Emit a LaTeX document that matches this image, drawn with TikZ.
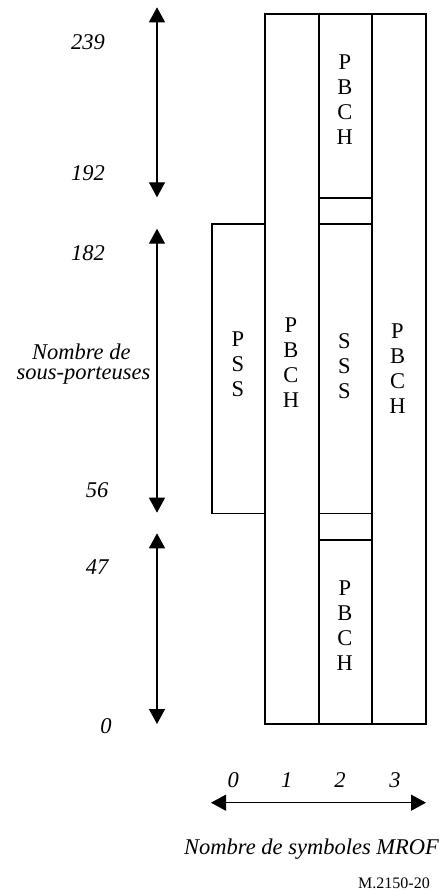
\documentclass[tikz,border=0pt]{standalone}
\usepackage{fontspec}
\setmainfont{Liberation Serif}
\usetikzlibrary{arrows.meta}
\tikzset{
  box/.style={draw, line width=1.5pt, inner sep=0pt, anchor=north west},
  gap/.style={draw, line width=1.5pt, inner sep=0pt, anchor=north west},
  letters/.style={align=center, inner sep=0pt, font=\fontsize{22.5}{25}\selectfont},
  lab/.style={inner sep=0pt, font=\fontsize{22.5}{25}\selectfont\itshape},
  dbl/.style={line width=1.3pt, {Triangle[length=15pt,width=16pt]}-{Triangle[length=15pt,width=16pt]}},
}
\begin{document}
\begin{tikzpicture}[x=1pt,y=-1pt]
\useasboundingbox (0,0) rectangle (445,891);
% columns
\node[box, minimum width=54pt, minimum height=710pt] (c1) at (264.3,13.3) {};
\node[box, minimum width=53.7pt, minimum height=710pt] (c3) at (371.3,13.3) {};
\node[box, minimum width=53pt, minimum height=184pt] (p2t) at (318.3,13.3) {};
\node[gap, minimum width=53pt, minimum height=26pt] (g1) at (318.3,197.3) {};
\node[box, minimum width=53pt, minimum height=289.4pt] (sss) at (318.3,223.3) {};
\node[gap, minimum width=53pt, minimum height=26.6pt] (g2) at (318.3,512.7) {};
\node[box, minimum width=53pt, minimum height=184pt] (p2b) at (318.3,539.3) {};
\node[box, minimum width=53.3pt, minimum height=289.4pt] (pss) at (211,223.3) {};
% letters
\node[letters] (t1) at (291,362.5) {P\\B\\C\\H};
\node[letters] (t3) at (397.5,368.7) {P\\B\\C\\H};
\node[letters] (t2a) at (344.8,99.2) {P\\B\\C\\H};
\node[letters] (t2b) at (344.8,625.8) {P\\B\\C\\H};
\node[letters] (tsss) at (344.3,366) {S\\S\\S};
\node[letters] (tpss) at (238,364.5) {P\\S\\S};
% vertical arrows
\coordinate (a1t) at (157,7.3);
\coordinate (a1b) at (157,197.3);
\coordinate (a2t) at (157,228.7);
\coordinate (a2b) at (157,512.7);
\coordinate (a3t) at (157,533.3);
\coordinate (a3b) at (157,724);
\draw[dbl] (a1t) -- (a1b);
\draw[dbl] (a2t) -- (a2b);
\draw[dbl] (a3t) -- (a3b);
% vertical labels
\node[lab] (l239) at (88,41.7) {239};
\node[lab] (l192) at (88,173) {192};
\node[lab] (l182) at (88,253) {182};
\node[lab] (l56) at (97,490) {56};
\node[lab] (l47) at (97,566.7) {47};
\node[lab] (l0) at (106,725.7) {0};
\node[lab] (ny1) at (81.3,351.7) {Nombre de};
\node[lab] (ny2) at (83.5,376) {sous-porteuses};
% horizontal axis
\node[lab] (x0) at (233.3,780) {0};
\node[lab] (x1) at (286.7,780) {1};
\node[lab] (x2) at (340,780) {2};
\node[lab] (x3) at (395,780) {3};
\coordinate (hl) at (211,802.7);
\coordinate (hr) at (426,802.7);
\draw[dbl] (hl) -- (hr);
\node[lab, anchor=west] (nx) at (184,849.3) {Nombre de symboles MROF};
\node[inner sep=0pt, font=\fontsize{16}{18}\selectfont] (ref) at (394,883) {M.2150-20};
\end{tikzpicture}
\end{document}
